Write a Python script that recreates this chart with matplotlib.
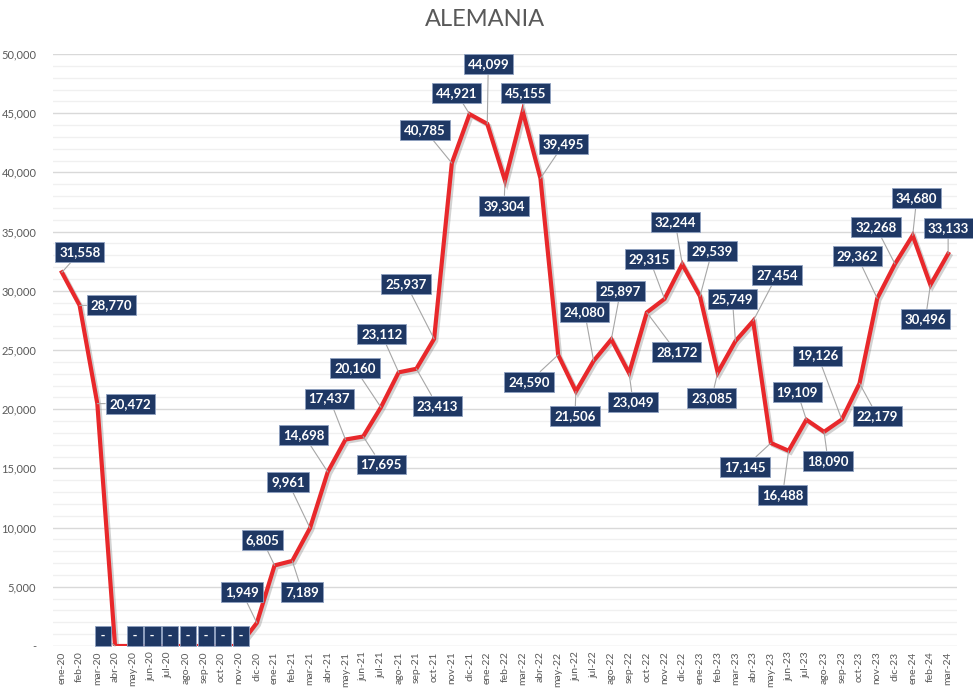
"""ALEMANIA monthly series, ene-20 .. mar-24, Excel-style line chart with boxed data labels -> out.png"""

import matplotlib

matplotlib.use("Agg")
import matplotlib.pyplot as plt
import matplotlib.patheffects as pe
from matplotlib.ticker import FuncFormatter, MultipleLocator

MESES = ["ene", "feb", "mar", "abr", "may", "jun", "jul", "ago", "sep", "oct", "nov", "dic"]
months = [f"{m}-{y}" for y in ("20", "21", "22", "23") for m in MESES] + ["ene-24", "feb-24", "mar-24"]

values_2020 = [31558, 28770, 20472, 0, 0, 0, 0, 0, 0, 0, 0, 1949]
values_2021 = [6805, 7189, 9961, 14698, 17437, 17695, 20160, 23112, 23413, 25937, 40785, 44921]
values_2022 = [44099, 39304, 45155, 39495, 24590, 21506, 24080, 25897, 23049, 28172, 29315, 32244]
values_2023 = [29539, 23085, 25749, 27454, 17145, 16488, 19109, 18090, 19126, 22179, 29362, 32268]
values_2024 = [34680, 30496, 33133]
values = values_2020 + values_2021 + values_2022 + values_2023 + values_2024

# label box offsets from each point, in pixels (dx, dy up)
label_offsets = [
    (18, 20), (32, 0), (33, 0), (-12, 10), (2, 10), (2, 10), (2, 10), (2, 10),
    (2, 10), (2, 10), (2, 10), (-15, 31),
    (-12, 25), (10, -31), (-22, 46), (-24, 37), (-16, 41), (18, -28), (-26, 39),
    (-17, 38), (21, -37), (-28, 55), (-27, 33), (-13, 21),
    (1, 60), (-1, -25), (3, 18), (23, 34), (-29, -27), (-1, -25), (-9, 49),
    (9, 48), (4, -29), (30, -40), (-15, 40), (-7, 42),
    (12, 45), (-6, -25), (-3, 42), (24, 46), (-26, -24), (-6, -44), (-9, 28),
    (4, -29), (-24, 64), (18, -33), (-20, 42), (-19, 37),
    (4, 37), (-5, -34), (0, 26),
]

NAVY = "#1F3864"
RED = "#E8282B"
GREY_TXT = "#595959"

plt.rcParams["font.family"] = ["Lato", "DejaVu Sans"]

fig = plt.figure(figsize=(9.73, 6.91), dpi=100)
ax = fig.add_axes([53 / 973, 1 - 646 / 691, (957 - 53) / 973, (646 - 54) / 691])

x = list(range(len(values)))
ax.plot(x, values, color=RED, lw=3.0, solid_joinstyle="miter", zorder=3,
        path_effects=[pe.SimpleLineShadow(offset=(1.5, -1.5), shadow_color="#808080", alpha=0.35),
                      pe.Normal()])

for i, v in enumerate(values):
    dx, dy = label_offsets[i]
    txt = "\u2009-\u2009" if v == 0 else f"{v:,}"
    ax.annotate(txt, (i, v), xytext=(dx, dy), textcoords="offset pixels",
                ha="center", va="center", fontsize=9.5, fontweight="bold", color="white",
                bbox=dict(boxstyle="square,pad=0.3", fc=NAVY, ec="#8EA0C0", lw=0.6),
                arrowprops=dict(arrowstyle="-", color="#A6A6A6", lw=0.8,
                                shrinkA=0, shrinkB=0),
                zorder=5)

ax.set_xlim(-0.5, len(values) - 0.5)
ax.set_ylim(0, 50000)
ax.yaxis.set_major_locator(MultipleLocator(5000))
ax.yaxis.set_minor_locator(MultipleLocator(1000))
ax.yaxis.set_major_formatter(FuncFormatter(lambda v, p: "-" if v == 0 else f"{int(v):,}"))
ax.grid(which="major", axis="y", color="#D9D9D9", lw=1.0)
ax.grid(which="minor", axis="y", color="#F0F0F0", lw=1.0)
ax.set_axisbelow(True)

ax.set_xticks(x)
ax.set_xticklabels(months, rotation=90, fontsize=7.5, color=GREY_TXT)
ax.tick_params(axis="y", labelsize=8, labelcolor=GREY_TXT, length=0, pad=12)
ax.tick_params(axis="x", length=0, pad=4)
ax.tick_params(which="minor", length=0)
for s in ax.spines.values():
    s.set_visible(False)

fig.text(485 / 973, 1 - 20 / 691, "ALEMANIA", ha="center", va="center",
         fontsize=17, color=GREY_TXT)

fig.savefig("out.png", dpi=100)
